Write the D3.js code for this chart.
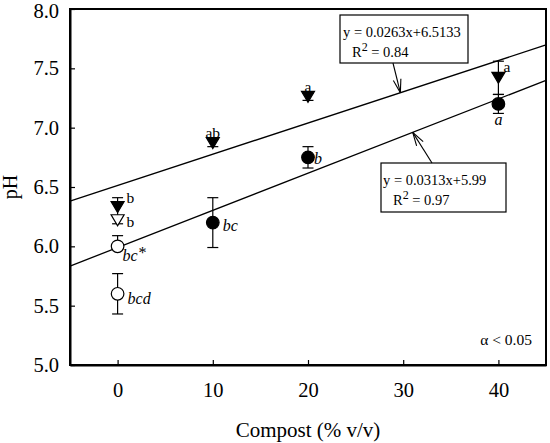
<!DOCTYPE html>
<html>
<head>
<meta charset="utf-8">
<script src="https://cdn.jsdelivr.net/npm/d3@7"></script>
<style>
  body { margin: 0; background: #fff; }
</style>
</head>
<body>
<div id="chart"></div>
<script>
// compost rate (% v/v) and pH readings
const xTicks = [0, 10, 20, 30, 40];
const yTicks = [5.0, 5.5, 6.0, 6.5, 7.0, 7.5, 8.0];

// filled triangles
const triX = [0, 10, 20, 40];
const triPH = [6.33, 6.87, 7.26, 7.42];
const triErr = [0.08, 0.03, 0.03, 0.14];
const triLbl = ["b", "ab", "a", "a"];

// filled circles
const dotX = [10, 20, 40];
const dotPH = [6.2, 6.75, 7.2];
const dotErr = [0.21, 0.09, 0.08];
const dotLbl = ["bc", "b", "a"];

// open symbols at 0 %
const openTriX = [0];
const openTriPH = [6.22];
const openTriErr = [0.03];
const openTriLbl = ["b"];
const openDotX = [0, 0];
const openDotPH = [6.0, 5.6];
const openDotErrUp = [0.09, 0.17];
const openDotErrDown = [0, 0.17];
const openDotLbl = ["bc*", "bcd"];

// regression lines [slope, intercept]
const fitSlope = [0.0263, 0.0313];
const fitIntercept = [6.5133, 5.99];
const fitEq = ["y = 0.0263x+6.5133", "y = 0.0313x+5.99"];
const fitR2 = ["0.84", "0.97"];

const FONT = "'Liberation Serif', 'Times New Roman', serif";
const width = 550, height = 443;
const svg = d3.select("#chart").append("svg")
    .attr("width", width)
    .attr("height", height)
    .style("font-family", FONT);

const x = d3.scaleLinear().domain([-5, 45]).range([70, 546]);
const y = d3.scaleLinear().domain([5, 8]).range([365, 9]);

// frame
svg.append("rect")
    .attr("x", x(-5)).attr("y", y(8))
    .attr("width", x(45) - x(-5)).attr("height", y(5) - y(8))
    .attr("fill", "none").attr("stroke", "#000").attr("stroke-width", 2);

// axes with inward ticks
const xAxis = svg.append("g")
    .attr("transform", `translate(0,${y(5)})`)
    .call(d3.axisBottom(x).tickValues(xTicks).tickSizeInner(-5).tickSizeOuter(0).tickPadding(17));
const yAxis = svg.append("g")
    .attr("transform", `translate(${x(-5)},0)`)
    .call(d3.axisLeft(y).tickValues(yTicks).tickFormat(d3.format(".1f")).tickSizeInner(-5).tickSizeOuter(0).tickPadding(11));
[xAxis, yAxis].forEach(g => {
    g.attr("font-family", null).attr("font-size", null);
    g.select(".domain").attr("stroke-width", 2);
    g.selectAll(".tick line").attr("stroke-width", 1.2);
    g.selectAll(".tick text")
        .style("font-family", FONT)
        .style("font-size", "20.5px")
        .attr("fill", "#000");
});
// keep the top label inside the page
yAxis.selectAll(".tick text").filter(d => d === 8).attr("dy", "0.4em");

svg.append("text")
    .attr("x", (x(-5) + x(45)) / 2)
    .attr("y", 437)
    .attr("text-anchor", "middle")
    .style("font-size", "21px")
    .text("Compost (% v/v)");

svg.append("text")
    .attr("transform", `translate(17,${(y(5) + y(8)) / 2}) rotate(-90)`)
    .attr("text-anchor", "middle")
    .style("font-size", "20px")
    .text("pH");

// regression lines
const plot = svg.append("g");
fitSlope.forEach((m, i) => {
    plot.append("line")
        .attr("x1", x(-5)).attr("y1", y(m * -5 + fitIntercept[i]))
        .attr("x2", x(45)).attr("y2", y(m * 45 + fitIntercept[i]))
        .attr("stroke", "#000").attr("stroke-width", 1.3);
});

// error bars
function errBar(px, py, up, down) {
    const capW = 5.5;
    const g = plot.append("g").attr("stroke", "#000").attr("stroke-width", 1.2);
    g.append("line").attr("x1", x(px)).attr("x2", x(px)).attr("y1", y(py + up)).attr("y2", y(py - down));
    if (up > 0) g.append("line").attr("x1", x(px) - capW).attr("x2", x(px) + capW).attr("y1", y(py + up)).attr("y2", y(py + up));
    if (down > 0) g.append("line").attr("x1", x(px) - capW).attr("x2", x(px) + capW).attr("y1", y(py - down)).attr("y2", y(py - down));
}
triX.forEach((v, i) => errBar(v, triPH[i], triErr[i], triErr[i]));
dotX.forEach((v, i) => errBar(v, dotPH[i], dotErr[i], dotErr[i]));
openTriX.forEach((v, i) => errBar(v, openTriPH[i], openTriErr[i], openTriErr[i]));
openDotX.forEach((v, i) => errBar(v, openDotPH[i], openDotErrUp[i], openDotErrDown[i]));

// symbols
const downTri = "M-6.5,-5.5L6.5,-5.5L0,5.5Z";
function drawTri(xs, ys, fill) {
    plot.selectAll(null).data(xs).enter().append("path")
        .attr("d", downTri)
        .attr("transform", (d, i) => `translate(${x(d)},${y(ys[i])})`)
        .attr("fill", fill).attr("stroke", "#000").attr("stroke-width", 1.2);
}
function drawDot(xs, ys, fill) {
    plot.selectAll(null).data(xs).enter().append("circle")
        .attr("cx", d => x(d)).attr("cy", (d, i) => y(ys[i])).attr("r", 6.3)
        .attr("fill", fill).attr("stroke", "#000").attr("stroke-width", 1.2);
}
drawTri(openTriX, openTriPH, "#fff");
drawTri(triX, triPH, "#000");
drawDot(openDotX, openDotPH, "#fff");
drawDot(dotX, dotPH, "#000");

// significance letters: [dx, dy] offsets from the symbol, or anchored above the cap
function letters(xs, ys, errs, lbls, offs, italic) {
    xs.forEach((v, i) => {
        const o = offs[i];
        const t = plot.append("text")
            .attr("x", x(v) + o[0])
            .attr("y", o[2] === "cap" ? y(ys[i] + errs[i]) + o[1] : y(ys[i]) + o[1])
            .attr("text-anchor", o[3] || "start")
            .style("font-size", italic ? "16px" : "15.5px")
            .style("font-style", italic ? "italic" : "normal");
        if (lbls[i].endsWith("*")) {
            t.text(lbls[i].slice(0, -1));
            t.append("tspan").attr("dy", -3).text("*");
        } else {
            t.text(lbls[i]);
        }
    });
}
letters(triX, triPH, triErr, triLbl, [[9, -4], [0, -1.5, "cap", "middle"], [0, -1.5, "cap", "middle"], [5, -6]], false);
letters(openTriX, openTriPH, openTriErr, openTriLbl, [[9, 7]], false);
letters(dotX, dotPH, dotErr, dotLbl, [[10, 8], [6, 6.5], [0, 21, "", "middle"]], true);
letters(openDotX, openDotPH, openDotErrUp, openDotLbl, [[5, 15], [10, 10]], true);

// equation boxes with arrows pointing at their lines
const boxes = [
    { x0: 340, y0: 15, w: 128, h: 48, tx: 343, rx: 352, at: 29.7, from: [393, 63] },
    { x0: 381, y0: 163, w: 125, h: 49, tx: 383, rx: 393, at: 31.0, from: [432, 163] }
];
boxes.forEach((b, i) => {
    const g = svg.append("g");
    g.append("rect").attr("x", b.x0).attr("y", b.y0).attr("width", b.w).attr("height", b.h)
        .attr("fill", "#fff").attr("stroke", "#000").attr("stroke-width", 1.2);
    g.append("text").attr("x", b.tx).attr("y", b.y0 + 22).style("font-size", "14.5px").text(fitEq[i]);
    const r = g.append("text").attr("x", b.rx).attr("y", b.y0 + 42).style("font-size", "14.5px");
    r.append("tspan").text("R");
    r.append("tspan").attr("dy", -6).style("font-size", "12px").text("2");
    r.append("tspan").attr("dy", 6).text(" = " + fitR2[i]);

    const tx = x(b.at), ty = y(fitSlope[i] * b.at + fitIntercept[i]);
    const [fx, fy] = b.from;
    g.append("line").attr("x1", fx).attr("y1", fy).attr("x2", tx).attr("y2", ty)
        .attr("stroke", "#000").attr("stroke-width", 1.1);
    const ang = Math.atan2(ty - fy, tx - fx);
    const len = 14, spread = 0.28;
    [ang + Math.PI - spread, ang + Math.PI + spread].forEach(a => {
        g.append("line").attr("x1", tx).attr("y1", ty)
            .attr("x2", tx + len * Math.cos(a)).attr("y2", ty + len * Math.sin(a))
            .attr("stroke", "#000").attr("stroke-width", 1.1);
    });
});

svg.append("text")
    .attr("x", 532).attr("y", 345)
    .attr("text-anchor", "end")
    .style("font-size", "15.5px")
    .text("\u03b1 < 0.05");
</script>
</body>
</html>
